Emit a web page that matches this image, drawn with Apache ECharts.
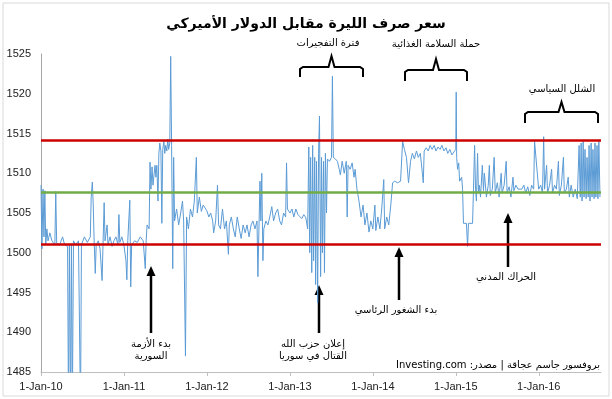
<!DOCTYPE html>
<html>
<head>
<meta charset="utf-8">
<script src="https://cdn.jsdelivr.net/npm/echarts@6/dist/echarts.min.js"></script>
<style>
html, body { margin: 0; padding: 0; background: #fff; }
#chart { width: 612px; height: 399px; }
</style>
</head>
<body>
<div id="chart"></div>
<script>
// سعر صرف الليرة - قراءات تقريبية من الرسم
var dates = [
    // 2010
    '2010-01-01','2010-01-05','2010-01-10','2010-01-14','2010-01-18','2010-01-22','2010-01-27','2010-02-01','2010-02-09','2010-02-18',
    '2010-03-03','2010-03-07','2010-03-11','2010-03-24','2010-04-06','2010-04-15','2010-04-28','2010-05-02','2010-05-06','2010-05-11',
    '2010-05-15','2010-05-19','2010-05-24','2010-06-02','2010-06-15','2010-06-24','2010-06-28','2010-07-11','2010-07-24','2010-08-06',
    '2010-08-10','2010-08-15','2010-08-19','2010-08-23','2010-08-28','2010-09-01','2010-09-10','2010-09-18','2010-09-27','2010-10-01',
    '2010-10-06','2010-10-10','2010-10-19','2010-10-23','2010-11-01','2010-11-10','2010-11-18','2010-11-27','2010-12-06','2010-12-10',
    '2010-12-14','2010-12-23',
    // 2011
    '2011-01-01','2011-01-10','2011-01-14','2011-01-18','2011-01-27','2011-01-31','2011-02-04','2011-02-17','2011-03-01','2011-03-14',
    '2011-03-27','2011-04-05','2011-04-09','2011-04-13','2011-04-22','2011-04-26','2011-04-30','2011-05-05','2011-05-09','2011-05-18',
    '2011-05-22','2011-05-26','2011-05-31','2011-06-04','2011-06-08','2011-06-13','2011-06-17','2011-06-21','2011-06-26','2011-06-30',
    '2011-07-04','2011-07-09','2011-07-13','2011-07-17','2011-07-22','2011-07-26','2011-07-30','2011-08-04','2011-08-08','2011-08-12',
    '2011-08-21','2011-08-30','2011-09-08','2011-09-16','2011-09-21','2011-09-29','2011-10-04','2011-10-12','2011-10-21','2011-10-30',
    '2011-11-07','2011-11-16','2011-11-20','2011-11-29','2011-12-08','2011-12-16',
    // 2012
    '2012-01-01','2012-01-10','2012-01-18','2012-01-27','2012-01-31','2012-02-09','2012-02-17','2012-02-22','2012-03-01','2012-03-10',
    '2012-03-19','2012-03-27','2012-04-05','2012-04-09','2012-04-18','2012-04-27','2012-05-05','2012-05-14','2012-05-23','2012-05-31',
    '2012-06-09','2012-06-18','2012-06-26','2012-07-05','2012-07-14','2012-07-22','2012-07-31','2012-08-09','2012-08-13','2012-08-22',
    '2012-08-26','2012-08-30','2012-09-04','2012-09-08','2012-09-17','2012-09-26','2012-10-04','2012-10-13','2012-10-21','2012-10-30',
    '2012-11-08','2012-11-17','2012-11-25','2012-12-04','2012-12-13','2012-12-17','2012-12-21',
    // 2013
    '2013-01-01','2013-01-10','2013-01-18','2013-01-27','2013-02-05','2013-02-13','2013-02-22','2013-03-03','2013-03-12','2013-03-20',
    '2013-03-25','2013-03-29','2013-04-02','2013-04-07','2013-04-11','2013-04-15','2013-04-20','2013-04-24','2013-04-28','2013-05-03',
    '2013-05-07','2013-05-11','2013-05-16','2013-05-20','2013-05-24','2013-05-29','2013-06-02','2013-06-06','2013-06-11','2013-06-15',
    '2013-06-24','2013-07-03','2013-07-07','2013-07-11','2013-07-20','2013-07-29','2013-08-06','2013-08-11','2013-08-19','2013-08-28',
    '2013-09-06','2013-09-10','2013-09-14','2013-09-23','2013-10-02','2013-10-10','2013-10-15','2013-10-23','2013-11-01','2013-11-10',
    '2013-11-19','2013-11-27','2013-12-06','2013-12-15','2013-12-23',
    // 2014
    '2014-01-01','2014-01-10','2014-01-14','2014-01-23','2014-02-01','2014-02-09','2014-02-18','2014-02-22','2014-03-03','2014-03-12',
    '2014-03-21','2014-03-29','2014-04-07','2014-04-20','2014-05-03','2014-05-12','2014-05-20','2014-05-29','2014-06-07','2014-06-16',
    '2014-06-24','2014-07-03','2014-07-12','2014-07-20','2014-07-29','2014-08-07','2014-08-11','2014-08-15','2014-08-24','2014-09-02',
    '2014-09-10','2014-09-19','2014-09-28','2014-10-06','2014-10-15','2014-10-24','2014-11-01','2014-11-10','2014-11-19','2014-11-27',
    '2014-12-06','2014-12-15','2014-12-23',
    // 2015
    '2015-01-01','2015-01-03','2015-01-05','2015-01-09','2015-01-14','2015-01-18','2015-01-27','2015-01-31','2015-02-04','2015-02-17',
    '2015-02-22','2015-02-26','2015-03-16','2015-03-20','2015-03-25','2015-03-29','2015-04-02','2015-04-07','2015-04-11','2015-04-15',
    '2015-04-20','2015-04-28','2015-05-03','2015-05-07','2015-05-16','2015-05-24','2015-05-29','2015-06-02','2015-06-11','2015-06-19',
    '2015-06-24','2015-07-03','2015-07-11','2015-07-20','2015-07-24','2015-08-02','2015-08-11','2015-08-15','2015-08-24','2015-09-01',
    '2015-09-10','2015-09-14','2015-09-23','2015-10-02','2015-10-10','2015-10-19','2015-10-28','2015-11-05','2015-11-14','2015-11-23',
    '2015-12-01','2015-12-10','2015-12-14',
    // 2016
    '2016-01-01','2016-01-10','2016-01-18','2016-01-23','2016-01-27','2016-02-05','2016-02-09','2016-02-18','2016-02-27','2016-03-02',
    '2016-03-11','2016-03-19','2016-03-28','2016-04-01','2016-04-10','2016-04-19','2016-04-23','2016-05-02','2016-05-10','2016-05-15',
    '2016-05-23','2016-06-01','2016-06-10','2016-06-19','2016-06-27','2016-07-02','2016-07-06','2016-07-10','2016-07-15','2016-07-19',
    '2016-07-23','2016-07-28','2016-08-01','2016-08-06','2016-08-10','2016-08-14','2016-08-19','2016-08-23','2016-08-27','2016-09-01',
    '2016-09-05','2016-09-09','2016-09-14','2016-09-18','2016-09-22','2016-09-27'
];

var rates = [
    // 2010
    1508.5,1500.5,1508,1502,1507.8,1501,1503,1501.5,1502.5,1501.5,
    1501,1507.7,1501.2,1501,1502,1501,1500.8,1480,1501,1480,
    1501,1480,1501.5,1501,1501.5,1480,1501,1502,1501.3,1502,
    1507,1508.9,1506,1501.5,1497.4,1501,1501.5,1500.5,1496.5,1501,
    1506.3,1501.5,1503.5,1501,1502,1500.8,1501.5,1502,1501,1504.8,
    1501.3,1502,
    // 2011
    1501,1499,1496.6,1501.5,1506.6,1495.7,1501,1501.5,1501.3,1502,
    1501.5,1498,1501.5,1503.5,1503,1511.4,1508,1510.8,1508.5,1511,
    1509.5,1511,1506.5,1512.5,1513.8,1512.8,1503.7,1513,1514,1512.5,
    1513.5,1512.8,1514.3,1513,1513.8,1524.7,1513.5,1498,1512,1504,
    1505.5,1503.5,1505,1506.5,1504,1487,1504.5,1503,1505.5,1504.5,
    1506.5,1512,1505,1507,1505.2,1506,
    // 2012
    1505.3,1504.5,1505,1504,1502.5,1504,1508.5,1503.5,1503,1505.5,
    1503,1504,1499.8,1503.5,1504.5,1503,1502,1504.5,1503,1501.8,
    1503.5,1502.5,1503.5,1502,1503.5,1504,1503,1504,1497,1509,
    1504,1510,1499,1503,1504,1503.5,1504.5,1505.8,1504,1505,
    1505.5,1504,1503.5,1505,1504.5,1511.3,1505.5,
    // 2013
    1505,1505.5,1504.5,1505.5,1504.8,1505,1504.3,1504.8,1504.4,1503,
    1513.3,1500,1512,1497.5,1513.5,1499,1512,1496,1511.5,1493.7,
    1512.5,1517.2,1497,1512,1500,1511.5,1497.5,1512.5,1505,1511.8,
    1511.5,1512,1522.2,1512,1511.8,1511.5,1510.5,1509.8,1511.5,1510,
    1511.5,1504.5,1511,1510.5,1511.3,1509.5,1510.5,1508,1506.5,1504.5,
    1506,1503.5,1505,1502.6,1504,
    // 2014
    1503,1506,1502.8,1504.5,1503,1505.5,1509.2,1503,1504.5,1503.5,
    1506,1508.8,1509,1508.8,1509,1514,1513,1512,1508.8,1511.5,
    1512.5,1511.8,1512.8,1512,1512.5,1510,1508.8,1512.8,1513.2,1512.8,
    1513.5,1513,1513.5,1512.8,1513.3,1513,1513.5,1512.8,1513.2,1512.5,
    1513,1512.3,1512.5,
    // 2015
    1513,1520.2,1512,1510.5,1511.3,1509,1509.5,1508,1503.7,1503.7,
    1500.8,1503.7,1503.7,1508,1513.5,1508,1506.5,1512.5,1507.5,1508.5,
    1507,1511,1507.8,1510,1507,1508.5,1511,1507.2,1508,1512,
    1507.5,1508.8,1507,1510,1507.5,1508.5,1511.5,1507.5,1508.3,1507,
    1509.5,1507.8,1508.5,1508,1508.2,1508,1508.5,1507.5,1508.3,1507.2,
    1508.5,1508,1514,
    // 2016
    1508,1508.5,1507.5,1514.6,1508,1511,1507.5,1508.5,1510.5,1507.5,
    1508.5,1508,1511.5,1507.2,1508.5,1512,1507.5,1508,1509.5,1507,
    1508.5,1507,1508,1506.8,1513.5,1507,1513.8,1506.5,1514,1507,
    1513,1506.8,1512,1507,1513.5,1506.5,1513.8,1507,1513,1506.8,
    1513.8,1507,1513.5,1506.8,1514,1507
];

var yearLabels = ['1-Jan-10', '1-Jan-11', '1-Jan-12', '1-Jan-13', '1-Jan-14', '1-Jan-15', '1-Jan-16'];
var yTicks = [1485, 1490, 1495, 1500, 1505, 1510, 1515, 1520, 1525];

var upperBand = 1514.1;   // الخط الأحمر الأعلى
var lowerBand = 1501.1;   // الخط الأحمر الأدنى
var meanRate = 1507.6;    // الخط الأخضر

// السنوات منذ 1-1-2010
var t0 = Date.UTC(2010, 0, 1);
var yearMs = 365.25 * 86400000;
function toYears(s) {
    var p = s.split('-');
    return (Date.UTC(+p[0], +p[1] - 1, +p[2]) - t0) / yearMs;
}

var seriesData = [];
for (var i = 0; i < dates.length; i++) {
    seriesData.push([toYears(dates[i]), rates[i]]);
}

var arabicFont = 'DejaVu Sans';
var numFont = 'Liberation Sans';

function brace(x1, x2, yBar, yEnd, yTip) {
    var xc = (x1 + x2) / 2;
    return {
        type: 'polyline',
        shape: { points: [[x1, yEnd], [x1, yBar + 2], [x1 + 3, yBar], [xc - 3, yBar], [xc, yTip], [xc + 3, yBar], [x2 - 3, yBar], [x2, yBar + 2], [x2, yEnd]] },
        style: { stroke: '#000', lineWidth: 2, fill: null }
    };
}

function arrow(x, yFrom, yTo) {
    return [
        { type: 'line', shape: { x1: x, y1: yFrom, x2: x, y2: yTo + 8 }, style: { stroke: '#000', lineWidth: 2.5 } },
        { type: 'polygon', shape: { points: [[x - 4.5, yTo + 10], [x + 4.5, yTo + 10], [x, yTo]] }, style: { fill: '#000' } }
    ];
}

function label(text, x, y, size, align) {
    return {
        type: 'text', x: x, y: y,
        style: { text: text, font: (size || 10) + 'px "' + arabicFont + '"', fill: '#000', align: align || 'center', verticalAlign: 'middle' }
    };
}

var graphics = [
    { type: 'rect', shape: { x: 3, y: 3, width: 606, height: 393 }, style: { fill: null, stroke: '#d9d9d9', lineWidth: 1 } },
    label('فترة التفجيرات', 328, 43),
    brace(300, 363, 67, 77, 56),
    label('حملة السلامة الغذائية', 436, 44),
    brace(405, 467, 70, 81, 59),
    label('الشلل السياسي', 562, 89),
    brace(525, 598, 112, 123, 102),
    label('بدء الأزمة', 151, 344),
    label('السورية', 151, 356),
    label('إعلان حزب الله', 313, 344),
    label('القتال في سوريا', 313, 356),
    label('بدء الشغور الرئاسي', 396, 310),
    label('الحراك المدني', 506, 277),
    label('\u202Bبروفسور جاسم عجاقة | مصدر: Investing.com\u202C', 600, 365, 10, 'right')
];
graphics = graphics.concat(arrow(151, 333, 266), arrow(319, 333, 285), arrow(399, 300, 247), arrow(508, 267, 213));

var chart = echarts.init(document.getElementById('chart'));
var option = {
    backgroundColor: '#fff',
    animation: false,
    title: {
        text: 'سعر صرف الليرة مقابل الدولار الأميركي',
        left: 'center',
        top: 12,
        textStyle: { fontFamily: arabicFont, fontSize: 14, fontWeight: 'bold', color: '#000' }
    },
    grid: { left: 41, right: 11, top: 54, bottom: 27 },
    xAxis: {
        type: 'value',
        min: 0,
        max: 6.75,
        interval: 1,
        axisLine: { show: true, lineStyle: { color: '#bfbfbf', width: 1 } },
        axisTick: { show: true, length: 4, lineStyle: { color: '#bfbfbf' } },
        splitLine: { show: false },
        axisLabel: {
            showMaxLabel: false,
            margin: 9,
            fontFamily: numFont,
            fontSize: 11,
            color: '#222',
            formatter: function (v) { return yearLabels[Math.round(v)] || ''; }
        }
    },
    yAxis: {
        type: 'value',
        min: yTicks[0],
        max: yTicks[yTicks.length - 1],
        interval: 5,
        axisLine: { show: true, lineStyle: { color: '#a6a6a6', width: 1 } },
        axisTick: { show: false },
        splitLine: { show: false },
        axisLabel: {
            margin: 10, fontFamily: numFont, fontSize: 11, color: '#222',
            formatter: function (v) { return String(v); }
        }
    },
    series: [{
        type: 'line',
        data: seriesData,
        symbol: 'none',
        clip: true,
        lineStyle: { color: '#5b9bd5', width: 1 },
        markLine: {
            silent: true,
            symbol: 'none',
            label: { show: false },
            data: [
                { yAxis: upperBand, lineStyle: { color: '#cc0000', width: 2.5, type: 'solid' } },
                { yAxis: lowerBand, lineStyle: { color: '#cc0000', width: 2.5, type: 'solid' } },
                { yAxis: meanRate, lineStyle: { color: '#70ad47', width: 2.5, type: 'solid' } }
            ]
        }
    }],
    graphic: graphics
};
chart.setOption(option);
</script>
</body>
</html>
